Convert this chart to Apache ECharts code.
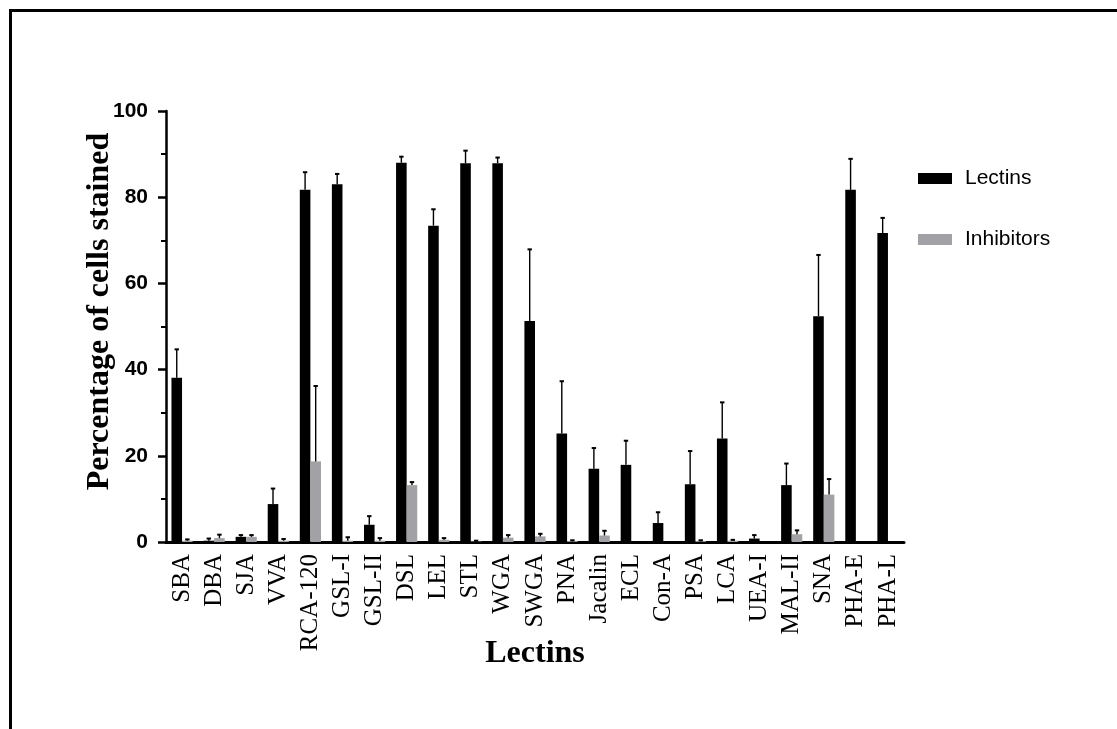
<!DOCTYPE html>
<html>
<head>
<meta charset="utf-8">
<script src="https://cdn.jsdelivr.net/npm/echarts@6/dist/echarts.min.js"></script>
<style>
html,body{margin:0;padding:0;background:#fff;}
#chart{width:1117px;height:729px;}
</style>
</head>
<body>
<div id="chart"></div>
<script>
const categories = ['SBA','DBA','SJA','VVA','RCA-120','GSL-I','GSL-II','DSL','LEL','STL','WGA','SWGA','PNA','Jacalin','ECL','Con-A','PSA','LCA','UEA-I','MAL-II','SNA','PHA-E','PHA-L'];
const lectins = [38.1, 0.3, 1.2, 8.8, 81.7, 83.0, 4.0, 88.0, 73.4, 87.9, 87.9, 51.3, 25.2, 17.0, 17.9, 4.4, 13.4, 24.0, 0.8, 13.2, 52.4, 81.7, 71.7];
const lectinsErr = [6.6, 0.5, 0.4, 3.6, 4.1, 2.4, 2.0, 1.4, 3.8, 2.9, 1.3, 16.6, 12.1, 4.8, 5.6, 2.5, 7.7, 8.4, 0.8, 5.0, 14.2, 7.2, 3.5];
const inhibitors = [0.3, 0.9, 1.2, 0.3, 18.7, 0.3, 0.3, 13.2, 0.5, 0.1, 1.0, 1.3, 0.2, 1.5, 0, 0, 0.2, 0.3, 0, 1.8, 11.0, 0, 0];
const inhibitorsErr = [0.3, 0.8, 0.4, 0.4, 17.5, 0.8, 0.6, 0.7, 0.4, 0.2, 0.6, 0.6, 0.2, 1.1, 0, 0, 0.2, 0.2, 0, 0.9, 3.6, 0, 0];
const yTicks = [0, 20, 40, 60, 80, 100];

const BAR_FRAC = 0.33;
const GRAY = '#a2a2a6';

function errData(vals, errs) {
  const out = [];
  vals.forEach((v, i) => { if (errs[i] > 0) out.push([i, v, errs[i]]); });
  return out;
}
function makeErrRender(side) {
  return function (params, api) {
    const idx = api.value(0), mean = api.value(1), err = api.value(2);
    const band = api.size([1, 0])[0];
    const bw = band * BAR_FRAC;
    const base = api.coord([idx, mean]);
    const top = api.coord([idx, mean + err]);
    const x = base[0] + side * bw / 2;
    const cap = 2.2;
    return {
      type: 'group',
      children: [
        { type: 'line', shape: { x1: x, y1: base[1], x2: x, y2: top[1] }, style: { stroke: '#000', lineWidth: 1.4 } },
        { type: 'line', shape: { x1: x - cap, y1: top[1], x2: x + cap, y2: top[1] }, style: { stroke: '#000', lineWidth: 2 } }
      ]
    };
  };
}

const chart = echarts.init(document.getElementById('chart'), null, { renderer: 'canvas' });
chart.setOption({
  animation: false,
  backgroundColor: '#fff',
  graphic: [{
    type: 'rect', left: 8, top: 8, z: -1,
    shape: { x: 0, y: 0, width: 1200, height: 800 },
    style: { fill: 'none', stroke: '#000', lineWidth: 3 }
  }],
  legend: {
    orient: 'vertical', left: 913, top: 163,
    itemWidth: 34, itemHeight: 11, itemGap: 40,
    icon: 'rect',
    textStyle: { fontFamily: 'Liberation Sans, Arial, sans-serif', fontSize: 21, color: '#000', padding: [0, 0, 0, 8] },
    data: ['Lectins', 'Inhibitors']
  },
  grid: { left: 166, right: 213, top: 111, bottom: 187, containLabel: false },
  xAxis: {
    type: 'category', data: categories,
    boundaryGap: true,
    name: 'Lectins', nameLocation: 'middle', nameGap: 96, nameMoveOverlap: false,
    nameTextStyle: { fontFamily: 'Liberation Serif, Times New Roman, serif', fontWeight: 'bold', fontSize: 32, color: '#000' },
    axisLine: { lineStyle: { color: '#000', width: 3 } },
    axisTick: { alignWithLabel: true, length: 7, lineStyle: { color: '#000', width: 2 } },
    axisLabel: { rotate: 90, interval: 0, margin: 12, fontFamily: 'Liberation Serif, Times New Roman, serif', fontSize: 25, color: '#000' },
    splitLine: { show: false }
  },
  yAxis: {
    type: 'value', min: 0, max: 100, interval: 20,
    name: 'Percentage of cells stained', nameLocation: 'middle', nameGap: 50, nameMoveOverlap: false,
    nameTextStyle: { fontFamily: 'Liberation Serif, Times New Roman, serif', fontWeight: 'bold', fontSize: 32, color: '#000', padding: [0, 0, 0, 30] },
    axisLine: { show: true, lineStyle: { color: '#000', width: 2.5 } },
    axisTick: { show: true, length: 8, lineStyle: { color: '#000', width: 2.5 } },
    minorTick: { show: true, splitNumber: 2, length: 5, lineStyle: { color: '#000', width: 2 } },
    axisLabel: {
      margin: 18, fontFamily: 'Liberation Sans, Arial, sans-serif', fontWeight: 'bold', fontSize: 21, color: '#000',
      formatter: v => (yTicks.indexOf(v) >= 0 ? String(v) : '')
    },
    splitLine: { show: false }
  },
  series: [
    { name: 'Lectins', type: 'bar', data: lectins, barWidth: (BAR_FRAC * 100) + '%', barGap: '0%', itemStyle: { color: '#000' }, z: 2 },
    { name: 'Inhibitors', type: 'bar', data: inhibitors, barWidth: (BAR_FRAC * 100) + '%', barGap: '0%', itemStyle: { color: GRAY }, z: 2 },
    { name: 'lerr', type: 'custom', data: errData(lectins, lectinsErr), renderItem: makeErrRender(-1), z: 3, silent: true, encode: { x: 0, y: [1] } },
    { name: 'ierr', type: 'custom', data: errData(inhibitors, inhibitorsErr), renderItem: makeErrRender(1), z: 3, silent: true, encode: { x: 0, y: [1] } }
  ]
});
</script>
</body>
</html>
